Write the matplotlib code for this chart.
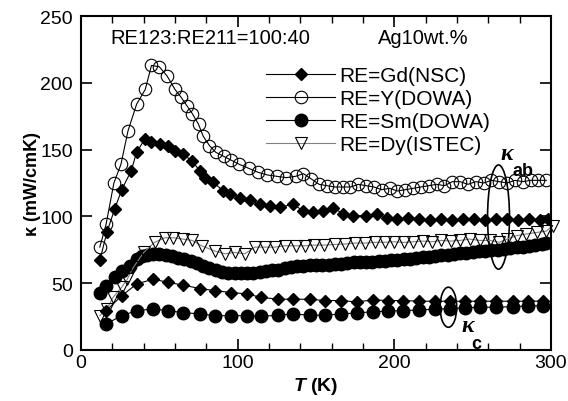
import matplotlib
matplotlib.use("Agg")
import matplotlib.pyplot as plt
from matplotlib.patches import Ellipse
from matplotlib.ticker import MultipleLocator

plt.rcParams['font.family'] = ['Liberation Sans', 'DejaVu Sans']
plt.rcParams['mathtext.fontset'] = 'custom'
plt.rcParams['mathtext.it'] = 'Liberation Sans:bold:italic'

# kappa_ab, RE=Y(DOWA)
t_y = [12, 16, 21, 25.5, 30, 35.5, 41, 45, 50, 55, 60, 64, 67.5, 71, 75, 78, 82, 86, 91, 96,
       101, 107, 113, 119, 125, 131, 137, 142, 147, 152, 157, 162, 167, 172, 177, 182, 187, 192,
       197, 202, 207, 212, 217, 222, 227, 232, 237, 242, 247, 252, 257, 262, 267, 272, 277, 282,
       287, 292, 297]
k_y = [77, 94, 125, 139, 164, 184, 195, 213, 212, 205, 195, 189, 183, 177, 169, 160, 153, 148, 145, 142,
       139, 136, 133, 131, 130, 129, 130, 132, 128, 124, 123, 122, 122, 122, 124, 123, 122, 120,
       121, 119, 120, 121, 122, 123, 124, 123, 126, 126, 124, 126, 125, 127, 126, 125, 127, 126,
       127, 127, 127]

# kappa_ab, RE=Gd(NSC)
t_gd = [12, 16.5, 21.5, 26, 32, 35.5, 40.8, 45, 50.4, 55.7, 60, 65, 70.6, 76, 79, 84.5, 90.8, 95,
        101.5, 108, 114, 120.6, 127, 135.5, 142, 148, 154.6, 161, 167, 173.8, 182, 188.7, 195,
        202, 209, 216, 223, 230, 237, 244, 251, 258, 265, 272, 279, 286, 293, 298]
k_gd = [67, 88, 105.5, 120, 134, 148, 158, 156, 154, 153, 149, 146.7, 141.7, 134, 129, 125.5, 119, 117,
        114, 112, 109, 108, 107, 109, 104, 103, 104, 106.6, 102, 100.5, 100.5, 102, 99,
        98, 99, 98, 97, 98, 97, 98, 98, 97, 98, 98, 97, 98, 97, 98]

# kappa_ab, RE=Sm(DOWA)
t_sm = [12, 16, 21.5, 26, 31, 35.5, 39, 42, 46, 50, 54, 58, 62, 66, 70, 74, 78, 82, 86, 90,
        94, 98, 102, 106, 110, 114, 118, 122, 126, 130, 134, 138, 142, 146, 150, 154, 158, 162,
        166, 170, 174, 178, 182, 186, 190, 194, 198, 202, 206, 210, 214, 218, 222, 226, 230, 234,
        238, 242, 246, 250, 254, 258, 262, 266, 270, 274, 278, 282, 286, 290, 294, 297]
k_sm = [43, 48, 54.6, 59, 63, 68, 70, 71, 72, 71.5, 71, 70, 69, 68, 66.5, 65, 63, 61, 60, 58.5,
        58, 58, 58, 58, 58, 58.5, 59, 59.5, 60, 61, 62, 62.5, 63, 63.5, 63.5, 63.5, 63.5, 64,
        64.5, 65, 65.5, 65.5, 65.5, 66, 66.3, 66.5, 67, 67.3, 67.8, 68.2, 68.8, 69.3, 69.8, 70.3, 70.8, 71.3,
        71.8, 72.3, 72.8, 73.3, 73.8, 74.2, 74.7, 75.2, 75.8, 76.3, 76.8, 77.4, 78, 78.6, 79.3, 80]

# kappa_ab, RE=Dy(ISTEC)
t_dy = [12, 16.5, 20.5, 26, 29.5, 33.5, 40, 47, 53.5, 59, 65, 71, 77, 85.5, 92, 98, 104.5, 111,
        117.5, 124, 130, 137, 143, 149, 155, 162, 168.5, 175, 181, 187.5, 194, 200, 206, 212,
        218, 224, 230, 236, 242, 248, 254.5, 261, 267, 272, 278, 284, 291, 297, 301]
k_dy = [25.7, 30.7, 39.4, 47, 53, 62, 73, 80.6, 84, 84, 83, 82, 78, 74, 72, 73, 72, 77,
        77, 77, 78, 78, 78, 78.5, 78.5, 79, 79.3, 80, 80, 80.6, 80.6, 81, 80.5, 81,
        81.5, 81, 82, 81.5, 82, 83, 82, 82, 80.6, 83, 85.6, 86.8, 88, 89, 93]

# kappa_c, Gd and Sm
t_c = [16, 26, 35.5, 46, 55.7, 65, 76, 85.5, 96, 105.7, 115, 126, 135.5, 146, 155.7, 166, 176,
       186.5, 196, 205.6, 216, 226, 235.5, 245, 254.6, 265, 276, 285.5, 295]
k_gd_c = [29.4, 40.6, 49.4, 53, 50.6, 48.6, 46, 44.4, 43, 42, 39.4, 38, 38, 38, 37, 37, 36,
          37.5, 37, 37, 36.5, 36.5, 36.5, 36.5, 36.5, 36.5, 36.5, 36.5, 36.5]
k_sm_c = [19.5, 25.7, 29.4, 30.7, 29.4, 28, 27, 25.7, 25.7, 25.7, 25.2, 26, 27, 26, 26, 27, 27.7,
          28.7, 29, 29.5, 30, 30.5, 31, 31.5, 32, 32, 32.5, 33, 33]

fig = plt.figure(figsize=(5.68, 4.02), dpi=100)
ax = fig.add_axes([0.1426, 0.1269, 0.8275, 0.8308])

lw = 0.8
ax.plot(t_gd, k_gd, '-D', color='k', lw=lw, ms=6.5, label='RE=Gd(NSC)')
ax.plot(t_y, k_y, '-o', color='k', mfc='none', mew=0.8, lw=lw, ms=9, label='RE=Y(DOWA)')
ax.plot(t_sm, k_sm, '-o', color='k', lw=lw, ms=9, label='RE=Sm(DOWA)')
ax.plot(t_dy, k_dy, '-v', color='#808080', mec='k', mfc='none', mew=0.8, lw=lw, ms=9,
        label='RE=Dy(ISTEC)', clip_on=False)
ax.plot(t_c, k_gd_c, '-D', color='k', lw=lw, ms=6.5)
ax.plot(t_c, k_sm_c, '-o', color='k', lw=lw, ms=9)

# kappa_ab / kappa_c markers
ax.add_patch(Ellipse((266.5, 99.5), 14, 78, fill=False, lw=1.2, color='k'))
ax.add_patch(Ellipse((234.5, 32), 10.6, 30, fill=False, lw=1.2, color='k'))
ax.text(271.5, 147, 'κ', family='Liberation Serif', style='italic', weight='bold',
        fontsize=17, ha='center', va='center')
ax.text(282, 134.5, 'ab', weight='bold', fontsize=13, ha='center', va='center')
ax.text(247, 18, 'κ', family='Liberation Serif', style='italic', weight='bold',
        fontsize=17, ha='center', va='center')
ax.text(252.5, 5, 'c', weight='bold', fontsize=13, ha='center', va='center')

ax.text(18.5, 234, 'RE123:RE211=100:40', fontsize=14.5, ha='left', va='center')
ax.text(189.5, 234, 'Ag10wt.%', fontsize=14.5, ha='left', va='center')

ax.legend(loc='upper left', bbox_to_anchor=(0.372, 0.882), frameon=False, fontsize=15,
          handlelength=3.3, handletextpad=0.2, labelspacing=0.2, borderpad=0)

ax.set_xlim(0, 300)
ax.set_ylim(0, 250)
ax.xaxis.set_major_locator(MultipleLocator(100))
ax.xaxis.set_minor_locator(MultipleLocator(20))
ax.yaxis.set_major_locator(MultipleLocator(50))
ax.tick_params(which='both', direction='in', top=True, right=True, labelsize=14)
ax.tick_params(which='major', length=8, width=1.2)
ax.tick_params(which='minor', length=5, width=1.0)
ax.tick_params(axis='y', pad=6)
ax.tick_params(axis='x', pad=3)
for s in ax.spines.values():
    s.set_linewidth(1.5)

ax.set_xlabel('$T$ (K)', fontsize=14, weight='bold', labelpad=3)
ax.set_ylabel('κ (mW/cmK)', fontsize=13, weight='bold', labelpad=-1)

fig.savefig('out.png', dpi=100)
